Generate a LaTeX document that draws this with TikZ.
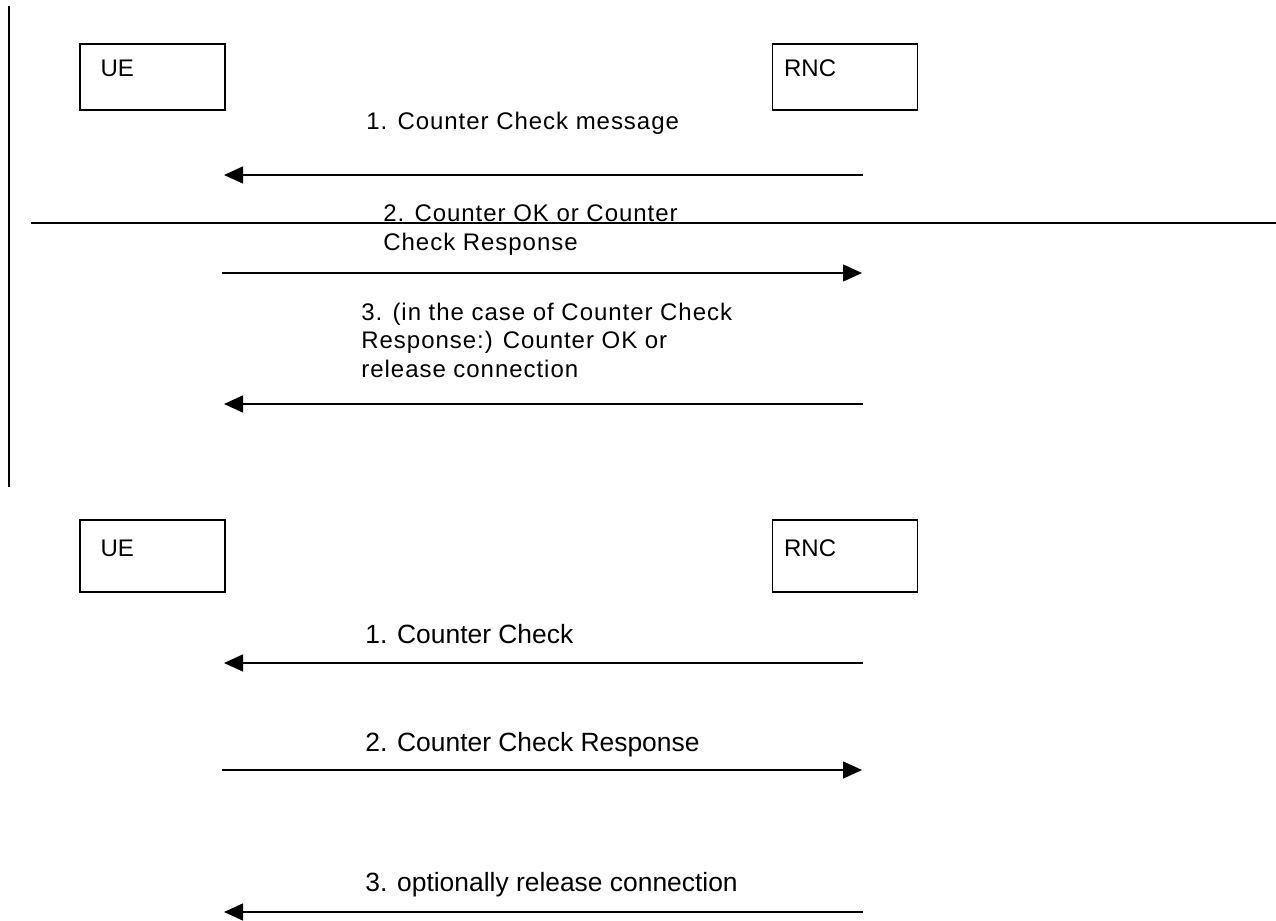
\documentclass[tikz,border=0pt]{standalone}
\usepackage{fontspec}
\setmainfont{Liberation Sans}
\newfontfamily\widefont[LetterSpace=4]{Liberation Sans}
\usetikzlibrary{arrows.meta, positioning, calc}

\begin{document}
\begin{tikzpicture}[x=0.5pt, y=-0.5pt, >={Triangle[length=9.5pt, width=8.5pt]},
    entity/.style={rectangle, draw, line width=0.75pt, minimum width=72.5pt,
                   minimum height=33pt, inner sep=0pt},
    tall/.style={minimum height=36pt},
    ename/.style={anchor=base west, inner sep=0pt, font=\fontsize{12}{14}\selectfont},
    msg/.style={anchor=base west, inner sep=0pt, align=left,
                font=\widefont\fontsize{12}{14.2}\selectfont},
    msgb/.style={anchor=base west, inner sep=0pt, font=\fontsize{13.2}{15}\selectfont},
    flow/.style={->, line width=0.7pt}]

    \useasboundingbox (0,0) rectangle (1276,921);

    % upper chart
    \node[entity] (ueA) at (152.5,77) {};
    \node[entity] (rncA) at (845,77) {};
    \node[ename] (ueAname) at ($(ueA.north west)+(21,33)$) {UE};
    \node[ename] (rncAname) at ($(rncA.north west)+(12,33)$) {RNC};

    \coordinate (ueA1) at (224,175);  \coordinate (rncA1) at (863,175);
    \coordinate (ueA2) at (222,273);  \coordinate (rncA2) at (862,273);
    \coordinate (ueA3) at (224,404);  \coordinate (rncA3) at (863,404);

    % base anchor sits on the last line of a node
    \node[msg] (chk) at (366,129) {1. Counter Check message};
    \node[msg] (okresp) at (383,250) {2. Counter OK or Counter\\Check Response};
    \node[msg] (relA) at (361,377) {3. (in the case of Counter Check\\Response:) Counter OK or\\release connection};

    \draw[flow] (rncA1) -- (ueA1);
    \draw[flow] (ueA2) -- (rncA2);
    \draw[flow] (rncA3) -- (ueA3);

    % frame lines
    \draw[line width=1pt] (9,6) -- (9,487);
    \draw[line width=0.6pt] (31,223) -- (1276,223);

    % lower chart
    \node[entity, tall] (ueB) at (152.5,556) {};
    \node[entity, tall] (rncB) at (845,556) {};
    \node[ename] (ueBname) at ($(ueB.north west)+(21,37)$) {UE};
    \node[ename] (rncBname) at ($(rncB.north west)+(12,37)$) {RNC};

    \coordinate (ueB1) at (224,663);  \coordinate (rncB1) at (863,663);
    \coordinate (ueB2) at (222,770);  \coordinate (rncB2) at (862,770);
    \coordinate (ueB3) at (224,912);  \coordinate (rncB3) at (863,912);

    \node[msgb] (chkB) at (365,643) {1. Counter Check};
    \node[msgb] (respB) at (365,751) {2. Counter Check Response};
    \node[msgb] (relB) at (365,891) {3. optionally release connection};

    \draw[flow] (rncB1) -- (ueB1);
    \draw[flow] (ueB2) -- (rncB2);
    \draw[flow] (rncB3) -- (ueB3);
\end{tikzpicture}
\end{document}
